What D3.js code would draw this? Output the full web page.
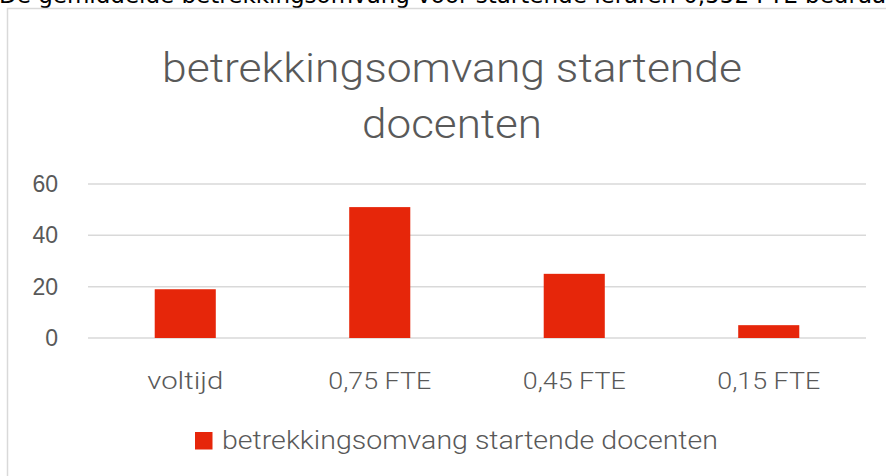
<!DOCTYPE html>
<html>
<head>
<meta charset="utf-8">
<script src="https://cdn.jsdelivr.net/npm/d3@7"></script>
<style>
  html, body { margin: 0; padding: 0; background: #fff; overflow: hidden; }
  svg { display: block; }
</style>
</head>
<body>
<svg id="chart" width="886" height="476"></svg>
<script>
// Data
const categories = ["voltijd", "0,75 FTE", "0,45 FTE", "0,15 FTE"];
const values = [19, 51, 25, 5];
const yTicks = [0, 20, 40, 60];
const titleLines = ["betrekkingsomvang startende", "docenten"];
const seriesName = "betrekkingsomvang startende docenten";
const introText = "De gemiddelde betrekkingsomvang voor startende leraren 0,552 FTE bedraagt";

const W = 886, H = 476;
const svg = d3.select("#chart");
const grey = "#595959";
const gridCol = "#d9d9d9";
const barCol = "#e6260a";
const labelFont = "Roboto, 'Noto Sans', sans-serif";

// Running text above the chart box (its upper part lies above the page edge)
svg.append("text")
  .attr("x", -1).attr("y", 3)
  .attr("font-family", "'DejaVu Sans', Verdana, sans-serif")
  .attr("font-size", 23)
  .attr("fill", "#000")
  .text(introText);

// Chart box
svg.append("rect")
  .attr("x", 7.5).attr("y", 8.5)
  .attr("width", W + 20).attr("height", H + 20)
  .attr("fill", "none")
  .attr("stroke", gridCol)
  .attr("stroke-width", 1.5);

// Title
const title = svg.append("text")
  .attr("text-anchor", "middle")
  .attr("font-family", labelFont)
  .attr("font-weight", 300)
  .attr("font-size", 40)
  .attr("fill", grey);
title.append("tspan").attr("x", 452).attr("y", 82).attr("textLength", 580).attr("lengthAdjust", "spacingAndGlyphs").text(titleLines[0]);
title.append("tspan").attr("x", 452).attr("y", 138).attr("textLength", 180).attr("lengthAdjust", "spacingAndGlyphs").text(titleLines[1]);

// Scales
const x = d3.scaleBand().domain(categories).range([88, 866]).paddingInner(0.686).paddingOuter(0.343);
const y = d3.scaleLinear().domain([0, 60]).range([338, 184]);

// Gridlines
svg.append("g")
  .selectAll("line")
  .data(yTicks)
  .join("line")
  .attr("x1", 88).attr("x2", 866)
  .attr("y1", d => y(d)).attr("y2", d => y(d))
  .attr("stroke", gridCol)
  .attr("stroke-width", 1.5);

// Y axis labels
const yAxis = svg.append("g")
  .attr("transform", "translate(58,0)")
  .call(d3.axisLeft(y).tickValues(yTicks).tickSize(0).tickPadding(0).tickFormat(d3.format("d")));
yAxis.select(".domain").remove();
yAxis.selectAll("text")
  .attr("font-family", "'Liberation Sans', Arial, sans-serif")
  .attr("font-size", 23)
  .attr("fill", grey);

// Bars
svg.append("g")
  .selectAll("rect")
  .data(values)
  .join("rect")
  .attr("x", (d, i) => x(categories[i]))
  .attr("y", d => y(d))
  .attr("width", x.bandwidth())
  .attr("height", d => y(0) - y(d))
  .attr("fill", barCol);

// X axis labels
const xAxis = svg.append("g")
  .attr("transform", "translate(0,381)")
  .call(d3.axisBottom(x).tickSize(0).tickPadding(0));
xAxis.select(".domain").remove();
xAxis.selectAll("text")
  .attr("dy", "0.35em")
  .attr("font-family", labelFont)
  .attr("font-weight", 300)
  .attr("font-size", 23)
  .attr("fill", grey)
  .each(function(d) {
    const widths = {"voltijd": 76, "0,75 FTE": 103, "0,45 FTE": 103, "0,15 FTE": 103};
    d3.select(this).attr("textLength", widths[d]).attr("lengthAdjust", "spacingAndGlyphs");
  });

// Legend
const legend = svg.append("g");
legend.append("rect")
  .attr("x", 195).attr("y", 432)
  .attr("width", 17.5).attr("height", 17.5)
  .attr("fill", barCol);
legend.append("text")
  .attr("x", 222).attr("y", 449)
  .attr("font-family", labelFont)
  .attr("font-weight", 300)
  .attr("font-size", 25)
  .attr("fill", grey)
  .attr("textLength", 496)
  .attr("lengthAdjust", "spacingAndGlyphs")
  .text(seriesName);
</script>
</body>
</html>
